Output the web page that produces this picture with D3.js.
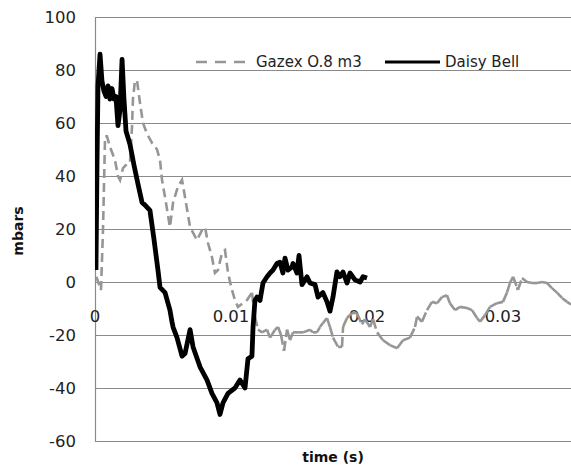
<!DOCTYPE html>
<html>
<head>
<meta charset="utf-8">
<script src="https://cdn.jsdelivr.net/npm/d3@7"></script>
<style>
  html, body { margin: 0; padding: 0; background: #fff; }
  svg { display: block; }
</style>
</head>
<body>
<div id="chart"></div>
<script>
// Pressure traces (time in s, pressure in mbar)
const daisyTime = [0.00007,0.00015,0.00022,0.00037,0.00051,0.00066,0.00081,0.00096,0.0011,0.00125,0.0014,0.00154,0.00169,0.00184,0.00199,0.00213,0.00228,0.00257,0.00287,0.00316,0.00346,0.00368,0.00404,0.00434,0.00463,0.00478,0.00515,0.00551,0.00566,0.00574,0.00603,0.0064,0.00662,0.00699,0.00721,0.00772,0.00824,0.0086,0.00897,0.00919,0.00941,0.00978,0.01029,0.01066,0.01103,0.01125,0.01154,0.01162,0.01176,0.01191,0.01213,0.01235,0.01265,0.01287,0.01309,0.01338,0.0136,0.01382,0.01397,0.01419,0.01449,0.01456,0.01485,0.015,0.01522,0.01559,0.01581,0.01618,0.0164,0.01676,0.01706,0.01728,0.0175,0.01779,0.01801,0.01824,0.01853,0.01875,0.01912,0.01949,0.01971,0.02];
const daisyValue = [4.5,46,74,86,76,72,70,74,69,73,69,70,59,65,84,69,57,52,44,37,30,29,27,16,4.5,-2,-4,-10.6,-15,-17,-21,-28,-27,-18,-24.5,-32,-37,-42,-45.6,-50,-45.6,-42,-40,-37,-40,-29,-28,-17,-7,-5.7,-7,-0.4,2,3.4,4.5,7,7.5,3.4,9,4.5,5.7,7,3.4,10,-1,2,-0.4,-1,-5.7,-4,-7.5,-11,-5.7,3.8,2,3.8,-0.4,3.4,0.8,0,2,1.5];

const gazexTime = [0.0001,0.00044,0.00059,0.00074,0.00088,0.0011,0.00147,0.00169,0.00184,0.00206,0.00243,0.00257,0.00272,0.00279,0.00294,0.00309,0.00331,0.00353,0.00382,0.00419,0.00456,0.00478,0.00493,0.00515,0.00551,0.00574,0.0061,0.0064,0.00662,0.00699,0.0075,0.00787,0.00809,0.00831,0.0086,0.00882,0.00904,0.00934,0.00956,0.00978,0.01007,0.01029,0.01051,0.01088,0.01118,0.01154,0.01176,0.01199,0.01228,0.01265,0.01287,0.01324,0.01346,0.01368,0.0139,0.01412,0.01434,0.01456,0.01493,0.0153,0.01581,0.01603,0.01632,0.01654,0.01676,0.01706,0.01728,0.0175,0.01787,0.01816,0.01824,0.01853,0.0189,0.01926,0.01963,0.01985,0.02022,0.02044,0.02074,0.02118,0.02169,0.02221,0.02265,0.02316,0.02353,0.02368,0.02404,0.02441,0.02478,0.02515,0.02551,0.02588,0.0261,0.02647,0.02684,0.02735,0.02772,0.02809,0.02831,0.02868,0.02904,0.02956,0.03,0.03029,0.03051,0.03074,0.03103,0.0311,0.0314,0.03176,0.03213,0.0325,0.03287,0.03324,0.0336,0.03397,0.03434,0.03471,0.035];
const gazexValue = [2,-3,20,55,55,51,46,40,38.5,43,45,45,58.5,69,76,76,67.5,60,56,52.5,50,46,38.5,32,20.7,30,36,38.5,32,20.7,15.8,19.6,20.7,14.7,9.4,3.4,4.5,11,12,3.4,-3,-6.8,-9.4,-8,-6.8,-4,-13,-18,-19,-18,-21,-18,-17,-20,-26,-18,-22,-19,-19,-19,-18,-19,-19,-17,-15.5,-13.6,-17,-21,-24.5,-24.5,-17,-13.6,-11.7,-11.7,-16,-14,-17,-14,-19,-22,-23.8,-25,-22,-21,-17,-13,-15,-10.6,-7.5,-8,-5.7,-5,-8,-10.6,-9.4,-9.8,-10.6,-13.6,-15,-12.5,-9.4,-8,-7.5,-4,-0.4,2,-2,-3,1.5,0,-0.4,-0.4,0,-0.4,-2.3,-4,-6,-7.5,-8.5];

const yTicks = [-60,-40,-20,0,20,40,60,80,100];
const xTicks = [0, 0.01, 0.02, 0.03];
const xTickLabels = ["0", "0.01", "0.02", "0.03"];
const seriesNames = ["Gazex O.8 m3", "Daisy Bell"];

const W = 571, H = 466;
const plotLeft = 95, plotRight = 571, plotTop = 17, plotBottom = 441;

const svg = d3.select("#chart").append("svg")
  .attr("width", W).attr("height", H);

const x = d3.scaleLinear().domain([0, 0.035]).range([plotLeft, plotRight]);
const y = d3.scaleLinear().domain([-60, 100]).range([plotBottom, plotTop]);

const font = "'DejaVu Sans', sans-serif";
const gridColor = "#8a8a8a";
const gazexColor = "#969696";

svg.append("defs").append("clipPath").attr("id", "plot")
  .append("rect").attr("x", plotLeft).attr("y", plotTop - 10)
  .attr("width", plotRight - plotLeft).attr("height", plotBottom - plotTop + 20);

// horizontal gridlines
svg.append("g").selectAll("line").data(yTicks).join("line")
  .attr("x1", plotLeft).attr("x2", plotRight)
  .attr("y1", d => Math.round(y(d)) + 0.5).attr("y2", d => Math.round(y(d)) + 0.5)
  .attr("stroke", gridColor).attr("stroke-width", 1.2);

// vertical axis line
svg.append("line")
  .attr("x1", plotLeft + 0.5).attr("x2", plotLeft + 0.5)
  .attr("y1", plotTop).attr("y2", plotBottom + 0.5)
  .attr("stroke", gridColor).attr("stroke-width", 1.2);

// y tick labels
svg.append("g").selectAll("text").data(yTicks).join("text")
  .attr("x", 76).attr("y", d => y(d))
  .attr("dy", "0.36em")
  .attr("text-anchor", "end")
  .attr("font-family", font).attr("font-size", 16.5)
  .attr("fill", "#222")
  .text(d => d);

// x tick labels, placed just under the zero line
svg.append("g").selectAll("text").data(xTicks).join("text")
  .attr("x", d => x(d)).attr("y", y(0) + 34)
  .attr("dy", "0.36em")
  .attr("text-anchor", "middle")
  .attr("font-family", font).attr("font-size", 16.5)
  .attr("fill", "#222")
  .text((d, i) => xTickLabels[i]);

const line = d3.line().x(d => x(d[0])).y(d => y(d[1]));
const plot = svg.append("g").attr("clip-path", "url(#plot)");

// Gazex: the steep opening transient is one dashed path; the noisy tail is
// drawn segment by segment so its short hops read almost solid
const gazex = gazexTime.map((t, i) => [t, gazexValue[i]]);
const split = gazex.findIndex(d => d[0] > 0.0115);
plot.append("path")
  .attr("d", line(gazex.slice(0, split + 1)))
  .attr("fill", "none")
  .attr("stroke", gazexColor)
  .attr("stroke-width", 2.6)
  .attr("stroke-dasharray", "9,5");
plot.append("g").selectAll("path").data(d3.pairs(gazex.slice(split))).join("path")
  .attr("d", d => line(d))
  .attr("fill", "none")
  .attr("stroke", gazexColor)
  .attr("stroke-width", 2.6)
  .attr("stroke-dasharray", "10,4");

// Daisy Bell
const daisy = daisyTime.map((t, i) => [t, daisyValue[i]]);
plot.append("path")
  .attr("d", line(daisy))
  .attr("fill", "none")
  .attr("stroke", "#000")
  .attr("stroke-width", 4.8)
  .attr("stroke-linejoin", "round");

// legend
const lg = svg.append("g").attr("font-family", font).attr("font-size", 15).attr("fill", "#222");
lg.append("line").attr("x1", 196).attr("x2", 246).attr("y1", 62).attr("y2", 62)
  .attr("stroke", gazexColor).attr("stroke-width", 2.6).attr("stroke-dasharray", "11,8");
lg.append("text").attr("x", 256).attr("y", 62).attr("dy", "0.36em").text(seriesNames[0]);
lg.append("line").attr("x1", 385).attr("x2", 440).attr("y1", 62).attr("y2", 62)
  .attr("stroke", "#000").attr("stroke-width", 3);
lg.append("text").attr("x", 445).attr("y", 62).attr("dy", "0.36em").text(seriesNames[1]);

// axis titles
svg.append("text")
  .attr("transform", "translate(18,231) rotate(-90)")
  .attr("dy", "0.36em")
  .attr("text-anchor", "middle")
  .attr("font-family", font).attr("font-size", 14).attr("font-weight", "bold")
  .attr("fill", "#111")
  .text("mbars");

svg.append("text")
  .attr("x", 333).attr("y", 462)
  .attr("text-anchor", "middle")
  .attr("font-family", font).attr("font-size", 14).attr("font-weight", "bold")
  .attr("fill", "#111")
  .text("time (s)");
</script>
</body>
</html>
